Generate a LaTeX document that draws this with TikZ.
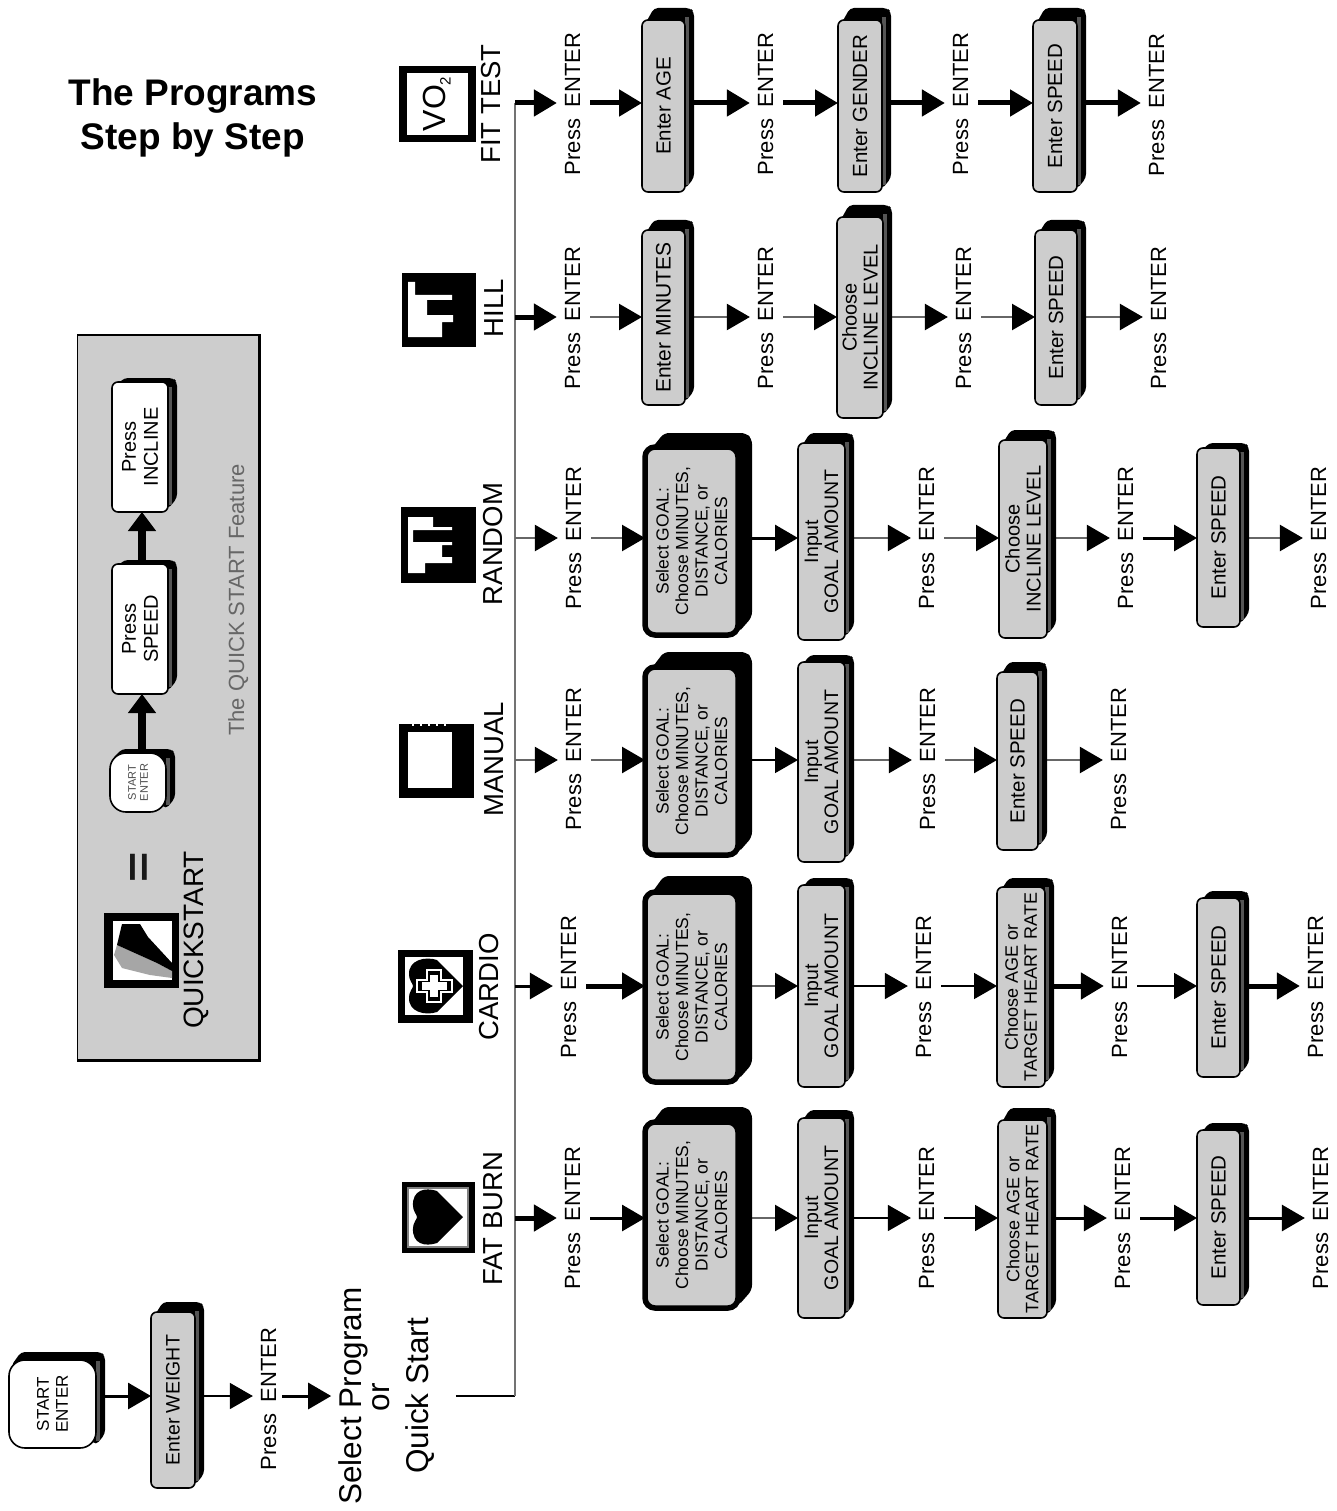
\documentclass[tikz,border=0pt]{standalone}
\usepackage{fontspec}
\setmainfont{Liberation Sans}
\usetikzlibrary{arrows.meta,backgrounds}
\definecolor{boxgray}{HTML}{CDCDCD}
\definecolor{stripe}{HTML}{555555}
\tikzset{
  fs/.style n args={2}{font=\fontsize{#1}{#2}\selectfont},
  stepnode/.style={draw=black,line width=1.6pt,fill=boxgray,rounded corners=6pt,rotate=90,align=center,inner sep=0pt,outer sep=0pt,text=black},
  goalnode/.style={stepnode,line width=5.5pt,rounded corners=10pt,fs={17.5}{19.5}},
  presstxt/.style={rotate=90,anchor=base,inner sep=0pt,outer sep=0pt,fs={22}{24}},
  iconlabel/.style={rotate=90,anchor=base,inner sep=0pt,outer sep=0pt,fs={27.5}{30}},
  bigtxt/.style={rotate=90,anchor=base,inner sep=0pt,outer sep=0pt,fs={31.5}{34}},
  iconframe/.style={fill=black,inner sep=0pt,outer sep=0pt},
  panelbox/.style={draw=black,line width=1.2pt,fill=boxgray,inner sep=0pt},
  tipT/.tip={Triangle[length=23pt,width=26pt,color=black,fill=black]},
  arrT/.style={-{tipT},line width=5pt,black},
  arrM/.style={-{tipT},line width=3pt,black},
  arrS/.style={-{tipT},line width=1.6pt,black},
  arrG/.style={-{tipT},line width=2.5pt,black!60},
  arrP/.style={-{Triangle[length=19pt,width=27pt]},line width=8pt,black},
  trunkline/.style={line width=2.6pt,black!55},
  feedline/.style={line width=1.5pt,black},
}
\newcommand{\stepbox}[8]{%
  \fill[black,rounded corners=4pt] ({#3+2},{#6+6}) -- ({#3+12},{#5}) -- ({#4+5},{#5}) -- ({#4+9},{#5+4}) -- ({#4+9},{#7-14}) -- ({#4},{#7-3}) -- cycle;
  \fill[stripe] ({#4},{#5+9}) rectangle ({#4+4},{#7-7});
  \node[stepnode,#2,minimum width={(#7-#6)*1pt},minimum height={(#4-#3)*1pt}] (#1) at ({(#3+#4)/2},{(#6+#7)/2}) {#8};
}
\newcommand{\goalbox}[4]{%
  \fill[black,rounded corners=5pt] (648,{#3+6}) -- (664,{#2}) -- (746,{#2}) -- (752,{#2+6}) -- (752,{#4-18}) -- (738,{#4-2}) -- cycle;
  \node[goalnode,minimum width={(#4-#3)*1pt},minimum height=93pt] (#1) at (691.5,{(#3+#4)/2}) {Select GOAL:\\Choose MINUTES,\\DISTANCE, or\\CALORIES};
}
\newcommand{\pressat}[3]{\node[presstxt] (#1) at (#2,#3) {Press\hspace{.25em} ENTER};}
\newcommand{\rp}[3]{\draw[#1,shorten >=8pt] (#2) -- (#3.north |- #2);}
\newcommand{\pb}[4]{\draw[#1,shorten <=10pt] (#2.south |- #4) -- (#3.north |- #4);}
\newcommand{\bp}[4]{\draw[#1,shorten >=8pt] (#2.south |- #4) -- (#3.north |- #4);}
\newcommand{\bbx}[4]{\draw[#1] (#2.south |- #4) -- (#3.north |- #4);}
\begin{document}
\begin{tikzpicture}[x=1pt,y=-1pt]
\useasboundingbox (0,0) rectangle (1336,1511);
\begin{pgfonlayer}{background}
\fill[white] (0,0) rectangle (1336,1511);
\end{pgfonlayer}
% title
\node[align=center,font=\fontsize{37}{44}\selectfont\bfseries] (title) at (193,118) {The Programs\\Step by Step};

% quick start panel
\node[panelbox,minimum width=181pt,minimum height=725pt] (panel) at (168,697.5) {};
\draw[line width=3pt,black] (panel.north east) -- (panel.south east) -- (panel.south west);
\stepbox{qinc}{fill=white,fs={20}{22}}{112}{168}{378}{382}{512}{Press\\INCLINE}
\stepbox{qspd}{fill=white,fs={20}{22}}{112}{168}{560}{564}{694}{Press\\SPEED}
\stepbox{qst}{fill=white,rounded corners=16pt,fs={11}{12},text=black!70}{110}{166}{749}{753}{812}{START\\ENTER}
\coordinate (qx) at (142,700);
\draw[arrP] (qx |- qst.east) -- (qx |- qspd.west);
\draw[arrP] (qx |- qspd.east) -- (qx |- qinc.west);
\node[rotate=90,inner sep=0pt,font=\fontsize{52}{52}\selectfont\bfseries,text=black!90] (qeq) at (142,867) {\scalebox{1}[0.85]{=}};
\node[iconframe,minimum width=75pt,minimum height=75pt] (qicon) at (141,950) {};
\fill[white] (113,921) rectangle (172,980);
\fill[black!35] (117,945) -- (137,954) -- (157,963) -- (172,971) -- (172,978) -- (150,975) -- (122,968) -- (114,955) -- cycle;
\fill[black] (122,924) -- (140,924) -- (148,937) -- (172,963) -- (172,971) -- (157,963) -- (137,954) -- (117,945) -- cycle;
\node[rotate=90,anchor=base,inner sep=0pt,fs={28}{30}] (qlab) at (203,940) {QUICKSTART};
\node[rotate=90,anchor=base,inner sep=0pt,fs={22}{24},text=black!60] (qcap) at (244,600) {The QUICK START Feature};

% left chain
\coordinate (r0) at (110,1396);
\coordinate (c0) at (515,1396);
\stepbox{start}{fill=white,rounded corners=16pt,fs={17}{19}}{9}{96}{1352}{1360}{1448}{START\\ENTER}
\stepbox{weight}{fs={19.5}{21}}{151}{195}{1302}{1312}{1488}{Enter WEIGHT}
\pressat{p01}{276}{1399}
\node[bigtxt] (sel) at (361,1396) {Select Program};
\node[bigtxt] (orn) at (389,1397) {or};
\node[bigtxt] (quick) at (428,1396) {Quick Start};

% icons
\node[iconframe,minimum width=77pt,minimum height=76pt] (ivo) at (437.5,104) {};
\fill[white] (407,73) rectangle (468,135);
\node[rotate=90,inner sep=0pt,font=\fontsize{32}{34}\selectfont] (vo) at (437,104) {VO\raisebox{-.3ex}{\fontsize{15}{16}\selectfont 2}};
\node[iconlabel] (lfit) at (500,104) {FIT TEST};

\node[iconframe,minimum width=74pt,minimum height=74pt] (ihill) at (439,310) {};
\fill[white] (408,282) -- (415,282) -- (415,295) -- (452,295) -- (452,300) -- (427,300) -- (427,315) -- (453,315) -- (453,322) -- (442,322) -- (442,337) -- (408,337) -- cycle;
\node[iconlabel] (lhill) at (503,308) {HILL};

\node[iconframe,minimum width=75pt,minimum height=76pt] (irnd) at (438.5,545) {};
\fill[white] (408,517) -- (433,517) -- (433,527) -- (452,527) -- (452,530) -- (413,530) -- (413,542) -- (452,542) -- (452,545) -- (442,545) -- (442,557) -- (452,557) -- (452,563) -- (425,563) -- (425,573) -- (408,573) -- cycle;
\node[iconlabel] (lrnd) at (502,544) {RANDOM};

\node[iconframe,minimum width=75pt,minimum height=74pt] (iman) at (436,761) {};
\fill[white] (408,732) rectangle (452,788);
\foreach \tx in {412,420,428,436,444}{\fill[white] (\tx,724) rectangle ({\tx+2},726);}
\node[iconlabel] (lman) at (503,759) {MANUAL};

\node[iconframe,minimum width=75pt,minimum height=73pt] (icar) at (435.5,986.5) {};
\fill[white] (405,957) rectangle (463,1015);
\fill[black] (463,986) -- (437,960) .. controls (425,956) and (408,960) .. (409,975) .. controls (409,980) and (413,984) .. (413,986) .. controls (413,988) and (409,992) .. (409,997) .. controls (408,1012) and (425,1016) .. (437,1012) -- cycle;
\draw[white,line width=1.3pt] (427,970) -- (441,970) -- (441,980) -- (452,980) -- (452,992) -- (441,992) -- (441,1002) -- (427,1002) -- (427,992) -- (417,992) -- (417,980) -- (427,980) -- cycle;
\fill[white] (430,975) rectangle (438,997);
\fill[white] (422,982) rectangle (447,990);
\node[iconlabel] (lcar) at (498,987) {CARDIO};

\node[iconframe,minimum width=73pt,minimum height=71pt] (ifat) at (438.5,1217.5) {};
\fill[white,draw=black!50,line width=2pt] (408,1188) rectangle (468,1247);
\fill[black] (463,1217) -- (437,1191) .. controls (425,1187) and (412,1190) .. (413,1206) .. controls (413,1211) and (417,1215) .. (417,1217) .. controls (417,1219) and (413,1223) .. (413,1228) .. controls (412,1244) and (425,1247) .. (437,1243) -- cycle;
\node[iconlabel] (lfat) at (502,1219) {FAT BURN};

% rows
\coordinate (r1) at (515,103);
\coordinate (r2) at (515,317);
\coordinate (r3) at (515,538);
\coordinate (r4) at (515,760);
\coordinate (r5) at (515,986);
\coordinate (r6) at (515,1218);

% FIT TEST
\pressat{p11}{580}{104}
\stepbox{b11}{fs={20.5}{22}}{642}{685}{8}{20}{192}{Enter AGE}
\pressat{p12}{773}{104}
\stepbox{b12}{fs={20.5}{22}}{838}{882}{8}{20}{192}{Enter GENDER}
\pressat{p13}{968}{104}
\stepbox{b13}{fs={20.5}{22}}{1033}{1077}{8}{20}{192}{Enter SPEED}
\pressat{p14}{1164}{105}

% HILL
\pressat{p21}{580}{318}
\stepbox{b21}{fs={21}{22}}{642}{685}{220}{230}{405}{Enter MINUTES}
\pressat{p22}{773}{318}
\stepbox{b22}{fs={20}{21}}{837}{883}{205}{217}{418}{Choose\\INCLINE LEVEL}
\pressat{p23}{971}{318}
\stepbox{b23}{fs={20.5}{22}}{1035}{1077}{220}{230}{405}{Enter SPEED}
\pressat{p24}{1166}{318}

% RANDOM
\pressat{p31}{581}{538}
\goalbox{g31}{433}{447}{635}
\stepbox{b32}{fs={19.5}{20}}{798}{845}{433}{443}{640}{Input\\GOAL AMOUNT}
\pressat{p32}{934}{538}
\stepbox{b33}{fs={20}{21}}{999}{1047}{430}{440}{638}{Choose\\INCLINE LEVEL}
\pressat{p33}{1133}{538}
\stepbox{b34}{fs={20.5}{22}}{1197}{1240}{443}{448}{627}{Enter SPEED}
\pressat{p34}{1326}{538}

% MANUAL
\pressat{p41}{581}{759}
\goalbox{g41}{652}{667}{855}
\stepbox{b42}{fs={19.5}{20}}{798}{845}{655}{662}{862}{Input\\GOAL AMOUNT}
\pressat{p42}{935}{759}
\stepbox{b43}{fs={20.5}{22}}{997}{1038}{662}{672}{850}{Enter SPEED}
\pressat{p43}{1126}{759}

% CARDIO
\pressat{p51}{576}{987}
\goalbox{g51}{876}{892}{1082}
\stepbox{b52}{fs={19.5}{20}}{798}{845}{878}{885}{1087}{Input\\GOAL AMOUNT}
\pressat{p52}{931}{987}
\stepbox{b53}{fs={18}{19}}{997}{1045}{878}{887}{1087}{Choose AGE or\\TARGET HEART RATE}
\pressat{p53}{1127}{987}
\stepbox{b54}{fs={20.5}{22}}{1197}{1240}{891}{898}{1077}{Enter SPEED}
\pressat{p54}{1323}{987}

% FAT BURN
\pressat{p61}{580}{1218}
\goalbox{g61}{1107}{1122}{1308}
\stepbox{b62}{fs={19.5}{20}}{798}{845}{1110}{1118}{1318}{Input\\GOAL AMOUNT}
\pressat{p62}{934}{1218}
\stepbox{b63}{fs={18}{19}}{998}{1047}{1108}{1120}{1318}{Choose AGE or\\TARGET HEART RATE}
\pressat{p63}{1130}{1218}
\stepbox{b64}{fs={20.5}{22}}{1197}{1240}{1123}{1130}{1305}{Enter SPEED}
\pressat{p64}{1328}{1218}

\begin{pgfonlayer}{background}
% trunk
\draw[feedline,shorten <=22pt] (quick.south |- c0) -- (c0);
\draw[trunkline] (c0) -- (r1);
% left chain
\bbx{arrM}{start}{weight}{r0}
\bp{arrS}{weight}{p01}{r0}
\draw[arrM,shorten <=6pt,shorten >=7pt] (p01.south |- r0) -- (sel.north |- r0);
% FIT TEST
\rp{arrT}{r1}{p11}
\pb{arrT}{p11}{b11}{r1}
\bp{arrT}{b11}{p12}{r1}
\pb{arrT}{p12}{b12}{r1}
\bp{arrT}{b12}{p13}{r1}
\pb{arrT}{p13}{b13}{r1}
\bp{arrT}{b13}{p14}{r1}
% HILL
\rp{arrT}{r2}{p21}
\pb{arrG}{p21}{b21}{r2}
\bp{arrG}{b21}{p22}{r2}
\pb{arrG}{p22}{b22}{r2}
\bp{arrG}{b22}{p23}{r2}
\pb{arrG}{p23}{b23}{r2}
\bp{arrG}{b23}{p24}{r2}
% RANDOM
\rp{arrG}{r3}{p31}
\pb{arrG}{p31}{g31}{r3}
\bbx{arrM}{g31}{b32}{r3}
\bp{arrG}{b32}{p32}{r3}
\pb{arrG}{p32}{b33}{r3}
\bp{arrG}{b33}{p33}{r3}
\pb{arrM}{p33}{b34}{r3}
\bp{arrG}{b34}{p34}{r3}
% MANUAL
\rp{arrG}{r4}{p41}
\pb{arrG}{p41}{g41}{r4}
\bbx{arrS}{g41}{b42}{r4}
\bp{arrG}{b42}{p42}{r4}
\pb{arrG}{p42}{b43}{r4}
\bp{arrG}{b43}{p43}{r4}
% CARDIO
\rp{arrM}{r5}{p51}
\pb{arrT}{p51}{g51}{r5}
\bbx{arrG}{g51}{b52}{r5}
\bp{arrS}{b52}{p52}{r5}
\pb{arrS}{p52}{b53}{r5}
\bp{arrT}{b53}{p53}{r5}
\pb{arrS}{p53}{b54}{r5}
\bp{arrT}{b54}{p54}{r5}
% FAT BURN
\rp{arrT}{r6}{p61}
\pb{arrM}{p61}{g61}{r6}
\bbx{arrG}{g61}{b62}{r6}
\bp{arrS}{b62}{p62}{r6}
\pb{arrS}{p62}{b63}{r6}
\bp{arrM}{b63}{p63}{r6}
\pb{arrM}{p63}{b64}{r6}
\bp{arrM}{b64}{p64}{r6}
\end{pgfonlayer}
\end{tikzpicture}
\end{document}
